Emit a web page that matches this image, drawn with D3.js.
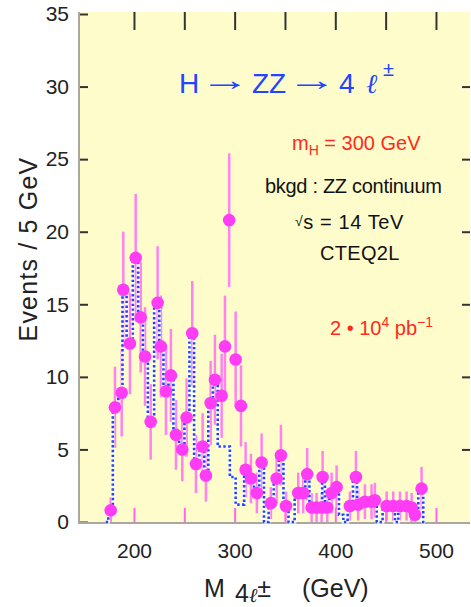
<!DOCTYPE html>
<html><head><meta charset="utf-8">
<script src="https://cdn.jsdelivr.net/npm/d3@7/dist/d3.min.js"></script>
<style>
html,body{margin:0;padding:0;background:#fff;}
text{font-family:"Liberation Sans",Arial,Helvetica,sans-serif;}
</style></head>
<body><svg id="chart" width="471" height="607"></svg>
<script>
// ---- data ----
const dataMass   = [176.9,181.1,187.8,189.4,196,201.7,206.7,211,216.6,223.5,226.8,231.8,236.7,241.7,248,252.3,257.9,261.6,268.2,271.5,276.2,280.4,287.1,290.4,294.6,301,306.3,310.9,316.2,322.1,326.8,336,341.7,346,351,363.2,368.1,372.1,376.5,381.4,386.4,387.4,392,396.3,401.3,414.5,420.5,422.7,429.4,436,439.3,451,457.5,464.2,470.8,475.8,479.1,485.7];
const dataEvents = [0.8,7.9,8.9,16.0,12.3,18.2,14.1,11.4,6.9,15.1,12.1,9.0,10.1,6.0,5.0,7.2,13.0,4.0,5.2,3.2,8.2,9.8,8.7,12.1,20.8,11.2,8.0,3.6,3.0,2.0,4.1,1.3,3.0,4.6,1.1,2.0,2.0,3.3,1.0,1.0,1.0,3.1,1.0,2.0,2.4,1.1,3.1,1.2,1.4,1.4,1.5,1.1,1.1,1.1,1.1,1.0,0.5,2.3];
const dataError  = [0.9,2.8,3.0,4.0,3.5,4.4,3.8,3.4,2.6,3.9,3.5,3.0,3.2,2.4,2.2,2.7,3.6,2.0,2.3,1.8,2.9,3.1,2.9,3.5,4.6,3.3,2.8,1.9,1.7,1.4,2.0,1.1,1.7,2.1,1.0,1.4,1.4,1.8,1.0,1.0,1.0,1.8,1.0,1.4,1.5,1.0,1.8,1.1,1.2,1.2,1.2,1.0,1.0,1.0,1.0,1.0,0.7,1.5];
// ZZ continuum histogram (dotted)
const bkgMass   = [172,176.9,181.1,187.8,189.4,196,201.7,206.7,211,216.6,223.5,226.8,231.8,236.7,241.7,248,252.3,257.9,261.6,268.2,271.5,276.2,280.4,286,292,298.5,303.5,308,310.9,316.2,322.1,326.8,331.5,336,341.7,346,351,356,363.2,368.1,372.1,376.5,381.4,386.4,387.4,392,396.3,401.3,406,410,414.5,420.5,422.7,429.4,436,439.3,443,451,457.5,461,464.2,470.8,475.8,479.1,485.7,489];
const bkgEvents = [0,0.8,7.9,8.9,16.0,12.3,18.2,14.1,11.4,6.9,15.1,12.1,9.0,10.1,6.0,5.0,7.2,13.0,4.0,5.2,3.2,8.2,9.8,5.2,5.2,3.1,1.2,1.2,3.6,3.0,2.0,4.1,0,1.3,3.0,4.6,1.1,0,2.0,2.0,3.3,1.0,1.0,1.0,3.1,1.0,2.0,2.4,0.5,0,1.1,3.1,1.2,1.4,1.4,1.5,0,1.1,1.1,0,1.1,1.1,1.0,0.5,2.3,0];
const xTicks = [200,250,300,350,400,450,500];
const xTickLabels = [200,300,400,500];
const yTicks = [0,5,10,15,20,25,30,35];

// ---- layout ----
const svg = d3.select("#chart");
const L=79, R=470, T=12, B=523;
const x = d3.scaleLinear().domain([145.4,533.8]).range([L,R]);
const y = d3.scaleLinear().domain([0,35]).range([522,14]);

svg.append("rect").attr("x",L).attr("y",T).attr("width",R-L).attr("height",B-T).attr("fill","#fffccc");

// axes
const gl = svg.append("g").attr("transform",`translate(${L},0)`)
  .call(d3.axisLeft(y).tickValues(yTicks).tickSize(-9).tickPadding(10));
gl.select(".domain").remove();
gl.selectAll("line").attr("stroke","#333").attr("stroke-width",2);
gl.selectAll("text").attr("font-size",21).attr("fill","#222");

const gr = svg.append("g").attr("transform",`translate(${R},0)`)
  .call(d3.axisRight(y).tickValues(yTicks.slice(1,7)).tickSize(-8).tickFormat(""));
gr.select(".domain").remove();
gr.selectAll("line").attr("stroke","#333").attr("stroke-width",2);

const gt = svg.append("g").attr("transform",`translate(0,${T})`)
  .call(d3.axisTop(x).tickValues(xTicks).tickSize(-18).tickFormat(""));
gt.select(".domain").remove();
gt.selectAll("line").attr("stroke","#333").attr("stroke-width",2);

const gb = svg.append("g").attr("transform",`translate(0,522)`)
  .call(d3.axisBottom(x).tickValues(xTicks).tickSize(-14).tickPadding(21)
    .tickFormat(d => xTickLabels.includes(d) ? String(d) : ""));
gb.select(".domain").remove();
gb.selectAll("line").attr("stroke","#ff66ee").attr("stroke-width",2);
gb.selectAll("text").attr("font-size",21).attr("fill","#222");

// frame (left & bottom)
svg.append("line").attr("x1",L).attr("x2",L).attr("y1",T).attr("y2",B+1).attr("stroke","#a8a8a0").attr("stroke-width",2);
svg.append("line").attr("x1",L).attr("x2",R).attr("y1",B).attr("y2",B).attr("stroke","#a8a8a0").attr("stroke-width",2);

// error bars
svg.append("g").selectAll("line").data(dataMass).join("line")
  .attr("x1",d=>x(d)).attr("x2",d=>x(d))
  .attr("y1",(d,i)=>y(Math.max(0,dataEvents[i]-dataError[i])))
  .attr("y2",(d,i)=>y(dataEvents[i]+dataError[i]))
  .attr("stroke","#ff6cf5").attr("stroke-width",2.5).attr("stroke-opacity",0.85);

// histogram
const line = d3.line().x(d=>x(d[0])).y(d=>y(d[1])).curve(d3.curveStep);
const hist = bkgMass.map((m,i)=>[m,bkgEvents[i]]);
svg.append("path").attr("d",line(hist)).attr("fill","none").attr("stroke","#ffffff").attr("stroke-width",3.5).attr("stroke-opacity",0.8);
svg.append("path").attr("d",line(hist)).attr("fill","none").attr("stroke","#1f44ff").attr("stroke-width",2.6).attr("stroke-dasharray","2.4,2.4");

// points
svg.append("g").selectAll("circle").data(dataMass).join("circle")
  .attr("cx",d=>x(d)).attr("cy",(d,i)=>y(dataEvents[i])).attr("r",6.3)
  .attr("fill","#ff3cf5");

// annotations
const blue = "#2244ff";
const t1 = svg.append("text").attr("y",93).attr("font-size",28).attr("fill",blue);
t1.append("tspan").attr("x",179).text("H");
t1.append("tspan").attr("x",252).text("ZZ");
t1.append("tspan").attr("x",339).text("4");
t1.append("tspan").attr("x",366).attr("font-style","italic").attr("font-family","DejaVu Serif").attr("font-size",27).text("ℓ");
t1.append("tspan").attr("x",383).attr("dy",-17).attr("font-size",20).text("±");
[200, 287].forEach(ax => {
  svg.append("text").attr("x",ax).attr("y",90).attr("font-size",30).attr("fill",blue)
    .attr("textLength",50).attr("lengthAdjust","spacingAndGlyphs").text("→");
});

const t2 = svg.append("text").attr("y",150).attr("font-size",20).attr("fill","#ff2a1a");
t2.append("tspan").attr("x",292).text("m");
t2.append("tspan").attr("dy",5).attr("font-size",14).text("H");
t2.append("tspan").attr("dy",-5).text(" = 300 GeV");

svg.append("text").attr("x",265).attr("y",193).attr("font-size",20).attr("fill","#111").attr("letter-spacing",-0.3).text("bkgd : ZZ continuum");

const t3 = svg.append("text").attr("y",229).attr("font-size",20).attr("fill","#111").attr("letter-spacing",0.6);
t3.append("tspan").attr("x",295).attr("font-size",14).attr("dy",-3).text("√");
t3.append("tspan").attr("dy",3).text("s = 14 TeV");

svg.append("text").attr("x",320).attr("y",260).attr("font-size",20).attr("fill","#111").attr("letter-spacing",0.3).text("CTEQ2L");

const t4 = svg.append("text").attr("y",335).attr("font-size",20).attr("fill","#ff2a1a");
t4.append("tspan").attr("x",330).text("2 • 10");
t4.append("tspan").attr("dy",-8).attr("font-size",14).text("4");
t4.append("tspan").attr("dy",8).text(" pb");
t4.append("tspan").attr("dy",-8).attr("font-size",14).text("−1");

// axis titles
svg.append("text").attr("transform","translate(37,249) rotate(-90)").attr("text-anchor","middle")
  .attr("font-size",25).attr("letter-spacing",1.2).attr("fill","#222").text("Events / 5 GeV");

const tx = svg.append("text").attr("y",597).attr("font-size",25).attr("fill","#222");
tx.append("tspan").attr("x",204).text("M");
tx.append("tspan").attr("x",235).attr("dy",5).text("4");
tx.append("tspan").attr("font-style","italic").attr("font-family","DejaVu Serif").attr("font-size",20).text("ℓ");
tx.append("tspan").attr("dy",-5).text("±");
tx.append("tspan").attr("x",302).text("(GeV)");
</script></body></html>
